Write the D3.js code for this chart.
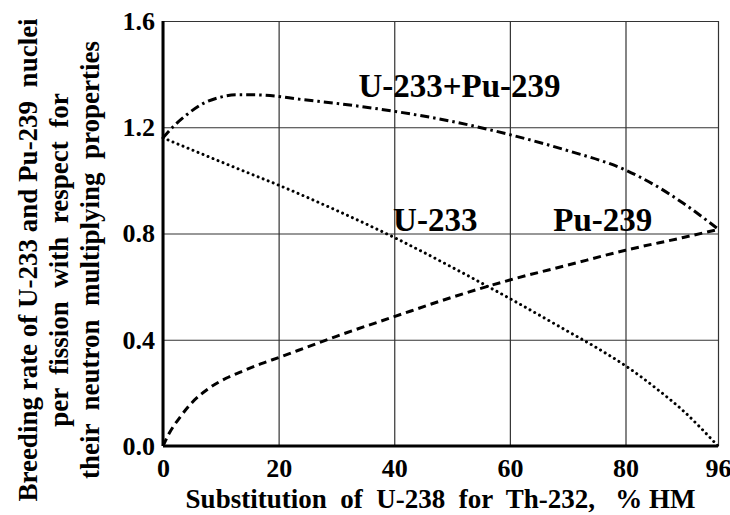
<!DOCTYPE html>
<html>
<head>
<meta charset="utf-8">
<script src="https://cdn.jsdelivr.net/npm/d3@7"></script>
<style>
  body { margin: 0; background: #fff; }
  svg text { font-family: "Liberation Serif", "DejaVu Serif", "Times New Roman", serif; font-weight: bold; fill: #000; }
</style>
</head>
<body>
<script>
// Courbes (x = % HM, y = taux)
var xTicks = [0, 20, 40, 60, 80, 96];
var yTicks = [0.0, 0.4, 0.8, 1.2, 1.6];

var puX = [0, 1, 3, 5, 8, 11, 14, 17, 20, 25, 30, 40, 50, 56, 60, 70, 80, 90, 96];
var puY = [0, 0.045, 0.11, 0.163, 0.218, 0.256, 0.284, 0.31, 0.333, 0.373, 0.413, 0.487, 0.56, 0.6, 0.625, 0.681, 0.737, 0.785, 0.815];

var uX = [0, 5, 10, 15, 20, 30, 40, 50, 60, 70, 75, 80, 85, 90, 96];
var uY = [1.16, 1.115, 1.07, 1.026, 0.982, 0.887, 0.785, 0.673, 0.555, 0.432, 0.37, 0.302, 0.222, 0.132, 0];

var sumX = [0, 1.8, 4.1, 7, 9.9, 12.7, 15.6, 20, 23, 30, 40, 50, 60, 70, 80, 85, 90, 96];
var sumY = [1.16, 1.203, 1.247, 1.29, 1.313, 1.322, 1.322, 1.316, 1.307, 1.29, 1.26, 1.222, 1.172, 1.112, 1.039, 0.983, 0.914, 0.817];

var labels = ["U-233+Pu-239", "U-233", "Pu-239"];

var yTitle = [
  "Breeding rate of U-233 and Pu-239  nuclei",
  "per  fission  with  respect  for",
  "their  neutron  multiplying  properties"
];
var xTitle = "Substitution  of  U-238  for  Th-232,   % HM";

var FONT = "'Liberation Serif', 'DejaVu Serif', 'Times New Roman', serif";

var margin = { top: 21, right: 12, bottom: 69, left: 163 };
var width = 730 - margin.left - margin.right;
var height = 515 - margin.top - margin.bottom;

var svg = d3.select("body").append("svg")
  .attr("width", 730)
  .attr("height", 515)
  .style("font-family", FONT);

var g = svg.append("g")
  .attr("transform", "translate(" + margin.left + "," + margin.top + ")");

var x = d3.scaleLinear().domain([0, 96]).range([0, width]);
var y = d3.scaleLinear().domain([0, 1.6]).range([height, 0]);

// Grille + étiquettes
var yAxis = d3.axisLeft(y).tickValues(yTicks).tickFormat(d3.format(".1f"))
  .tickSizeInner(-width).tickSizeOuter(0).tickPadding(8);
var xAxis = d3.axisBottom(x).tickValues(xTicks).tickFormat(d3.format("d"))
  .tickSizeInner(-height).tickSizeOuter(0).tickPadding(13);

var gy = g.append("g").call(yAxis);
var gx = g.append("g").attr("transform", "translate(0," + height + ")").call(xAxis);

[gx, gy].forEach(function(a) {
  a.attr("font-family", FONT).attr("font-size", null);
  a.select(".domain").remove();
  a.selectAll(".tick line").attr("stroke", "#333").attr("stroke-width", 1.2);
  a.selectAll(".tick text").style("font-size", "26px").style("font-family", FONT);
});

// Cadre : axes épais à gauche et en bas
g.append("line").attr("x1", 0).attr("x2", 0).attr("y1", 0).attr("y2", height)
  .attr("stroke", "#000").attr("stroke-width", 3);
g.append("line").attr("x1", 0).attr("x2", width).attr("y1", height).attr("y2", height)
  .attr("stroke", "#000").attr("stroke-width", 3);

// Courbes
var line = d3.line()
  .x(function(d) { return x(d[0]); })
  .y(function(d) { return y(d[1]); })
  .curve(d3.curveMonotoneX);

var series = [
  { xs: sumX, ys: sumY, dash: "9,4,2.5,4", w: 3 },
  { xs: uX, ys: uY, dash: "0.01,5.4", w: 3, cap: "round" },
  { xs: puX, ys: puY, dash: "8,5", w: 3 }
];

series.forEach(function(s) {
  var pts = s.xs.map(function(v, i) { return [v, s.ys[i]]; });
  g.append("path")
    .datum(pts)
    .attr("d", line)
    .attr("fill", "none")
    .attr("stroke", "#000")
    .attr("stroke-width", s.w)
    .attr("stroke-dasharray", s.dash)
    .attr("stroke-linecap", s.cap || "butt");
});

// Étiquettes des courbes
var labelPos = [[33.8, 1.313], [39.8, 0.81], [67.5, 0.81]];
g.selectAll(".curve-label")
  .data(labels)
  .enter().append("text")
  .attr("class", "curve-label")
  .attr("x", function(d, i) { return x(labelPos[i][0]); })
  .attr("y", function(d, i) { return y(labelPos[i][1]); })
  .style("font-family", FONT)
  .style("font-size", "33px")
  .text(function(d) { return d; });

// Titre axe x
svg.append("text")
  .attr("x", margin.left + width / 2)
  .attr("y", 508)
  .attr("text-anchor", "middle")
  .style("font-family", FONT)
  .style("font-size", "27px")
  .style("white-space", "pre")
  .text(xTitle);

// Titre axe y (trois lignes)
var yTitleBase = [37, 68, 99];
svg.selectAll(".ytitle")
  .data(yTitle)
  .enter().append("text")
  .attr("class", "ytitle")
  .attr("transform", function(d, i) { return "translate(" + yTitleBase[i] + ",260) rotate(-90)"; })
  .attr("text-anchor", "middle")
  .style("font-family", FONT)
  .style("font-size", "27px")
  .style("white-space", "pre")
  .text(function(d) { return d; });
</script>
</body>
</html>
